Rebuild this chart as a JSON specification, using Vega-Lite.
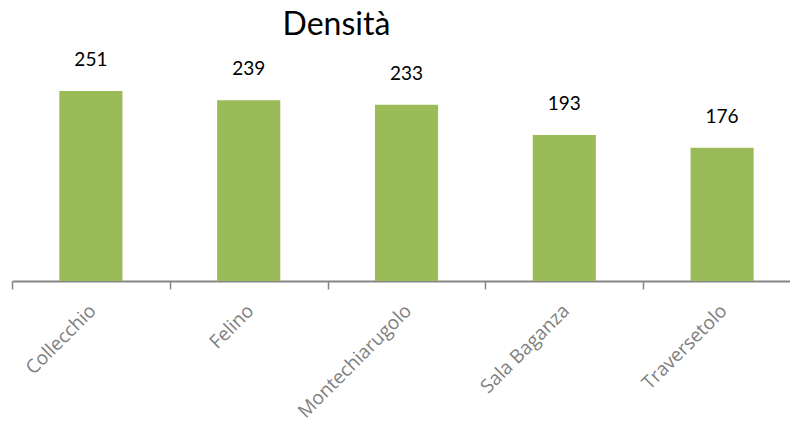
{
  "$schema": "https://vega.github.io/schema/vega-lite/v6.json",
  "autosize": {"type": "none"},
  "padding": {"left": 12, "top": 54, "right": 0, "bottom": 144},
  "width": 789,
  "height": 227,
  "background": "white",
  "title": {
    "text": "Densità",
    "font": "Lato",
    "fontSize": 32,
    "fontWeight": "normal",
    "color": "#000000",
    "anchor": "middle",
    "frame": "group",
    "dx": -70,
    "offset": 9
  },
  "data": {
    "values": [
      {"comune": "Collecchio", "densita": 251},
      {"comune": "Felino", "densita": 239},
      {"comune": "Montechiarugolo", "densita": 233},
      {"comune": "Sala Baganza", "densita": 193},
      {"comune": "Traversetolo", "densita": 176}
    ]
  },
  "encoding": {
    "x": {
      "field": "comune",
      "type": "nominal",
      "sort": null,
      "scale": {"paddingInner": 0, "paddingOuter": 0},
      "axis": {
        "title": null,
        "labelAngle": -45,
        "labelFont": "Open Sans",
        "labelFontSize": 19,
        "labelColor": "#7f7f7f",
        "labelPadding": 12,
        "labelOffset": -5,
        "domainColor": "#868686",
        "domainWidth": 2,
        "tickColor": "#868686",
        "tickWidth": 1.5,
        "tickSize": 8,
        "tickBand": "extent"
      }
    },
    "y": {
      "field": "densita",
      "type": "quantitative",
      "scale": {"domain": [0, 300], "nice": false},
      "axis": null
    }
  },
  "layer": [
    {"mark": {"type": "bar", "color": "#9BBB59", "width": {"band": 0.4}}},
    {
      "mark": {"type": "text", "font": "Lato", "fontSize": 19, "color": "#000000", "baseline": "middle", "dy": -31},
      "encoding": {"text": {"field": "densita", "type": "quantitative"}}
    }
  ],
  "config": {"view": {"stroke": null}}
}
